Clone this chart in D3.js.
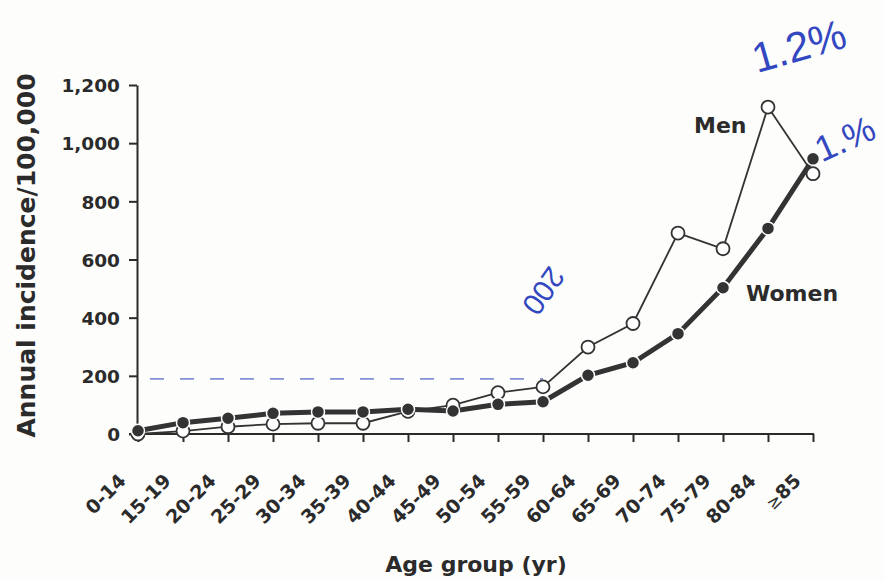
<!DOCTYPE html>
<html>
<head>
<meta charset="utf-8">
<script src="https://cdn.jsdelivr.net/npm/d3@7"></script>
<style>
  body { margin: 0; background: #fdfdfb; }
  text { font-family: "DejaVu Sans", sans-serif; font-weight: bold; fill: #2b2b2b; }
  .note { font-family: "Liberation Sans", sans-serif; font-weight: normal; fill: #3348c0; }
</style>
</head>
<body>
<div id="chart"></div>
<script>
// Age groups on the x axis
const ageGroups = ["0-14", "15-19", "20-24", "25-29", "30-34", "35-39", "40-44", "45-49",
  "50-54", "55-59", "60-64", "65-69", "70-74", "75-79", "80-84", "≥85"];

// Annual incidence per 100,000
const menValues = [0, 10, 25, 34, 37, 37, 78, 99, 142, 162, 299, 380, 691, 637, 1124, 895];
const womenValues = [11, 39, 54, 71, 76, 76, 85, 79, 102, 111, 202, 245, 345, 503, 707, 946];

const yTicks = [0, 200, 400, 600, 800, 1000, 1200];

// Handwritten marks on the scan
const penLevel = 200;

const width = 884, height = 580;
const margin = {top: 85, right: 69, bottom: 145, left: 138};

const svg = d3.select("#chart")
  .append("svg")
  .attr("width", width)
  .attr("height", height);

const xScale = d3.scalePoint()
  .domain(ageGroups)
  .range([margin.left, width - margin.right - 2]);

const yScale = d3.scaleLinear()
  .domain([0, 1200])
  .range([height - margin.bottom - 1, margin.top]);

const men = ageGroups.map((g, i) => ({g, v: menValues[i]}));
const women = ageGroups.map((g, i) => ({g, v: womenValues[i]}));

// pen dashed line at 200
svg.append("line")
  .attr("x1", xScale("0-14") + 12)
  .attr("x2", xScale("55-59"))
  .attr("y1", yScale(penLevel) + 3)
  .attr("y2", yScale(penLevel) + 3)
  .attr("stroke", "#3348c0")
  .attr("stroke-opacity", 0.6)
  .attr("stroke-width", 1.8)
  .attr("stroke-dasharray", "14,16");

// axes
const xAxis = d3.axisBottom(xScale).tickSize(8).tickSizeOuter(0).tickFormat("");
const yAxis = d3.axisLeft(yScale).tickValues(yTicks).tickSize(8).tickSizeOuter(0)
  .tickFormat(d3.format(","));

const gx = svg.append("g")
  .attr("transform", `translate(0,${yScale(0)})`)
  .call(xAxis);
gx.select(".domain").attr("d", `M${margin.left - 9},0H${xScale("≥85") + 1}`);

const gy = svg.append("g")
  .attr("transform", `translate(${margin.left - 1},0)`)
  .call(yAxis);

[gx, gy].forEach(g => {
  g.selectAll("path, line").attr("stroke", "#2b2b2b").attr("stroke-width", 2);
});
gy.selectAll("text")
  .attr("x", -17)
  .attr("dy", "0.36em")
  .style("font-size", "18.5px")
  .style("font-family", "DejaVu Sans");

// rotated x labels
const xl = svg.append("g")
  .selectAll("text")
  .data(ageGroups)
  .join("text")
  .attr("transform", d => `translate(${xScale(d) - 11},${yScale(0) + 48}) rotate(-45)`)
  .attr("text-anchor", "end")
  .style("font-size", "19px");

xl.each(function(d) {
  const t = d3.select(this);
  if (d.startsWith("≥")) {
    t.append("tspan").style("font-weight", "normal").style("font-size", "17px").text("≥");
    t.append("tspan").text(d.slice(1));
  } else {
    t.text(d);
  }
});

// axis titles
svg.append("text")
  .attr("transform", `translate(35,${(yScale(0) + yScale(1200)) / 2 - 4}) rotate(-90)`)
  .attr("text-anchor", "middle")
  .style("font-size", "25px")
  .text("Annual incidence/100,000");

svg.append("text")
  .attr("x", 476)
  .attr("y", 572)
  .attr("text-anchor", "middle")
  .style("font-size", "22px")
  .text("Age group (yr)");

// lines
const line = d3.line()
  .x(d => xScale(d.g))
  .y(d => yScale(d.v));

svg.append("path")
  .datum(men)
  .attr("d", line)
  .attr("fill", "none")
  .attr("stroke", "#333")
  .attr("stroke-width", 1.8);

svg.append("g")
  .selectAll("circle")
  .data(men)
  .join("circle")
  .attr("cx", d => xScale(d.g))
  .attr("cy", d => yScale(d.v))
  .attr("r", 6.5)
  .attr("fill", "#fff")
  .attr("stroke", "#333")
  .attr("stroke-width", 1.8);

svg.append("path")
  .datum(women)
  .attr("d", line)
  .attr("fill", "none")
  .attr("stroke", "#333")
  .attr("stroke-width", 5);

svg.append("g")
  .selectAll("circle")
  .data(women)
  .join("circle")
  .attr("cx", d => xScale(d.g))
  .attr("cy", d => yScale(d.v))
  .attr("r", 6.5)
  .attr("fill", "#333")
  .attr("stroke", "#fdfdfb")
  .attr("stroke-width", 1.5);

// series labels
svg.append("text")
  .attr("x", 694)
  .attr("y", 133)
  .style("font-size", "22px")
  .text("Men");

svg.append("text")
  .attr("x", 746)
  .attr("y", 301)
  .style("font-size", "22px")
  .text("Women");

// handwritten notes
svg.append("text")
  .attr("class", "note")
  .attr("transform", "translate(803,60) rotate(-16)")
  .attr("text-anchor", "middle")
  .style("font-size", "42px")
  .text("1.2%");

svg.append("text")
  .attr("class", "note")
  .attr("transform", "translate(850,150) rotate(-24)")
  .attr("text-anchor", "middle")
  .style("font-size", "36px")
  .text("1.%");

svg.append("text")
  .attr("class", "note")
  .attr("transform", "translate(535,285) rotate(125)")
  .attr("text-anchor", "middle")
  .style("font-size", "30px")
  .text("200");
</script>
</body>
</html>
